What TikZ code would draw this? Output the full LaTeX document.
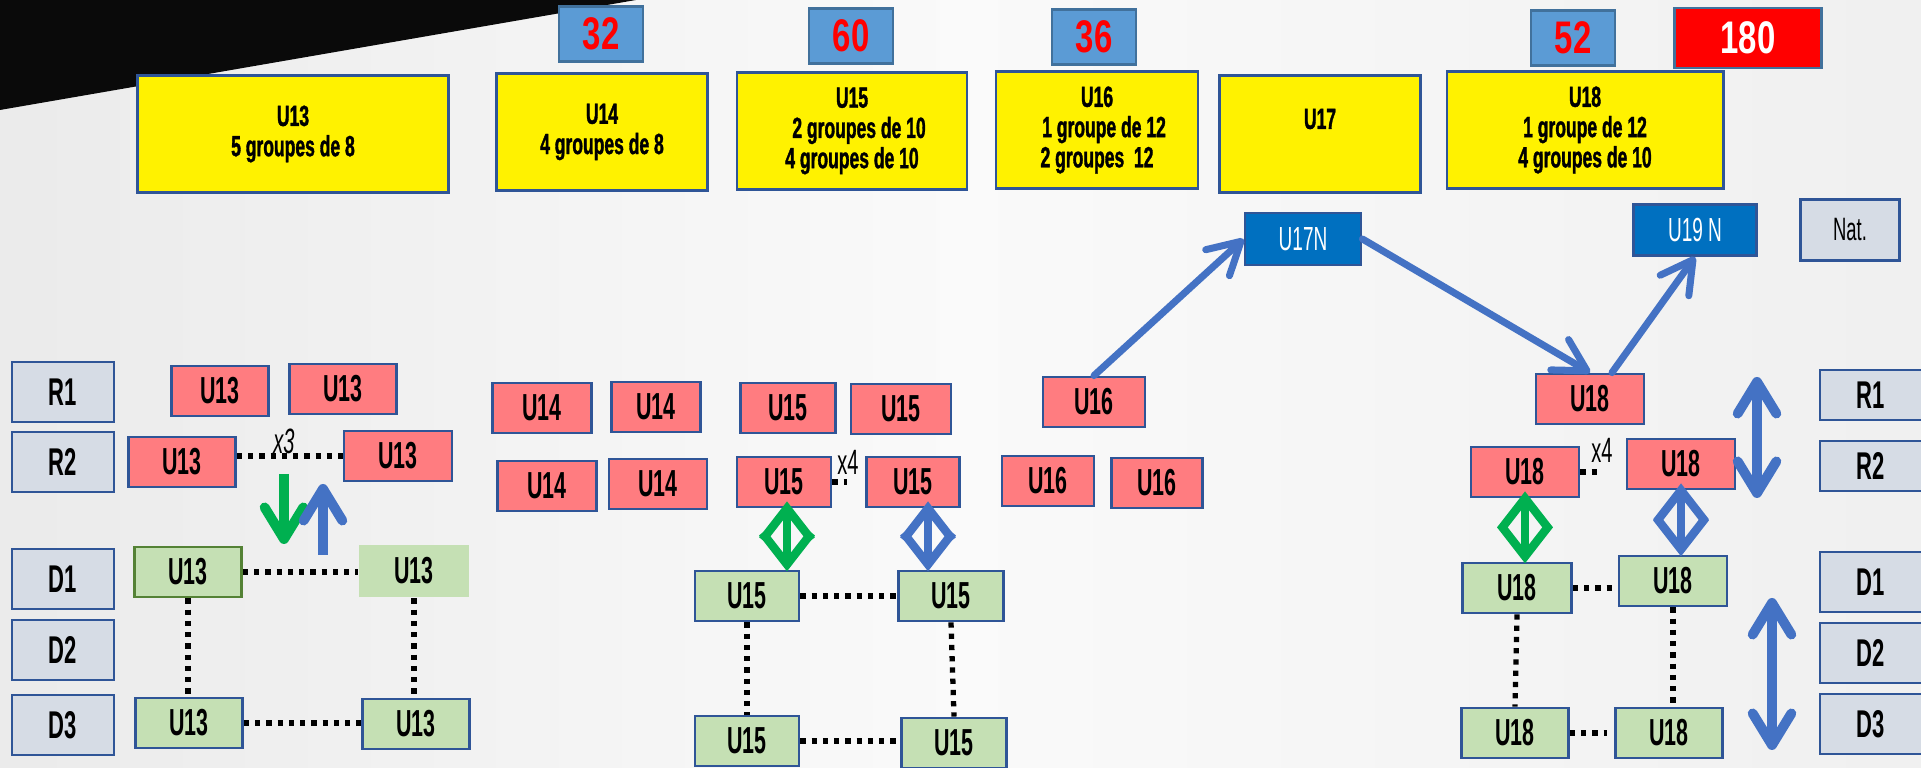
\documentclass[tikz,border=0pt]{standalone}
\usepackage{fontspec}
\setmainfont{Liberation Sans}[FakeStretch=0.57]
\newfontfamily\numfont{Liberation Sans}[FakeStretch=0.72]
\newfontfamily\heavyfont{Liberation Sans Bold}[FakeStretch=0.6, FakeBold=1.2]
\usepackage{tikz}
\usetikzlibrary{arrows.meta}

\definecolor{cntblue}{HTML}{5B9BD5}
\definecolor{cntedge}{HTML}{41719C}
\definecolor{edgeblue}{HTML}{2F5597}
\definecolor{rowgray}{HTML}{D6DCE5}
\definecolor{redbox}{HTML}{FF7C80}
\definecolor{greenbox}{HTML}{C5E0B4}
\definecolor{darkgreen}{HTML}{548235}
\definecolor{natblue}{HTML}{0070C0}
\definecolor{arrblue}{HTML}{4472C4}
\definecolor{arrgreen}{HTML}{00B050}

\tikzset{
  cnt/.style={draw=cntedge, line width=0.8pt, fill=cntblue, text=red,
    font=\numfont\bfseries\fontsize{13}{13}\selectfont,
    minimum width=0.84cm, minimum height=0.55cm, inner sep=0pt},
  ybox/.style={draw=edgeblue, line width=0.8pt, fill=yellow, align=center,
    font=\heavyfont\fontsize{8.3}{8.6}\selectfont, minimum height=1.17cm, inner sep=0pt},
  row/.style={draw=edgeblue, line width=0.8pt, fill=rowgray,
    font=\bfseries\fontsize{11}{11}\selectfont, minimum width=1.02cm, minimum height=0.6cm, inner sep=0pt},
  rbox/.style={draw=edgeblue, line width=0.8pt, fill=redbox,
    font=\bfseries\fontsize{10.7}{11}\selectfont, minimum height=0.5cm, inner sep=0pt},
  gbox/.style={rbox, fill=greenbox},
  nbox/.style={draw=edgeblue, line width=0.8pt, fill=natblue, text=white,
    font=\fontsize{9.5}{10}\selectfont, minimum height=0.52cm, inner sep=0pt},
  dots/.style={line width=1.5pt, dash pattern=on 1.5pt off 1.7pt},
  barb/.style={arrblue, line width=2pt, line cap=round,
    -{Straight Barb[round, length=9pt, width=10pt]}},
  updown/.style={line width=2.8pt, line cap=round,
    {Straight Barb[round, length=9pt, width=11pt]}-{Straight Barb[round, length=9pt, width=11pt]}},
  dia/.style={line width=2.4pt, shorten <=-2pt, shorten >=-0.5pt,
    {Straight Barb[length=9pt, width=14pt]}-{Straight Barb[length=9pt, width=14pt]}}
}

\begin{document}
\begin{tikzpicture}[x=0.01cm, y=-0.01cm]
\useasboundingbox (0,0) rectangle (1921,768);
\shade[left color=black!8, right color=black!6, middle color=black!2] (0,0) rectangle (1921,768);
\fill[black!96] (0,0) -- (636,0) -- (0,110) -- cycle;

% totaux
\node[cnt] (n32) at (601,34) {32};
\node[cnt] (n60) at (851,36) {60};
\node[cnt] (n36) at (1094,37) {36};
\node[cnt] (n52) at (1573,38) {52};
\node[cnt, fill=red, text=white, minimum width=1.47cm, minimum height=0.6cm] (n180) at (1748,38) {180};

% unites
\node[ybox, minimum width=3.11cm] (y13) at (293,134) {U13\\5 groupes de 8};
\node[ybox, minimum width=2.11cm] (y14) at (602,132) {U14\\4 groupes de 8};
\node[ybox, minimum width=2.30cm] (y15) at (852,131) {U15\\\hspace{4pt}2 groupes de 10\\4 groupes de 10};
\node[ybox, minimum width=2.02cm] (y16) at (1097,130) {U16\\\hspace{4pt}1 groupe de 12\\2 groupes\ \ 12};
\node[ybox, minimum width=2.01cm] (y17) at (1320,134) {U17\\\mbox{}};
\node[ybox, minimum width=2.76cm] (y18) at (1585,130) {U18\\1 groupe de 12\\4 groupes de 10};

\node[nbox, minimum width=1.16cm] (u17n) at (1303,239) {U17N};
\node[nbox, minimum width=1.23cm, minimum height=0.51cm] (u19n) at (1695,230) {U19 N};
\node[row, minimum width=0.99cm, minimum height=0.61cm, font=\fontsize{9.2}{10}\selectfont] (nat) at (1850,230) {Nat.};

% rangees
\foreach \n/\t/\y in {la/R1/392, lb/R2/462, lc/D1/579, ld/D2/650, le/D3/725}
  \node[row] (\n) at (63,\y) {\t};
\foreach \n/\t/\y/\h in {ma/R1/395/0.5cm, mb/R2/466/0.5cm, mc/D1/582/0.6cm, md/D2/653/0.6cm, me/D3/724/0.6cm}
  \node[row, minimum height=\h] (\n) at (1871,\y) {\t};

% boites rouges
\foreach \n/\t/\x/\y/\w in {
  r13a/U13/220/391/0.97cm, r13b/U13/343/389/1.07cm, r13c/U13/182/462/1.07cm, r13d/U13/398/456/1.08cm,
  r14a/U14/542/408/0.99cm, r14b/U14/656/407/0.89cm, r14c/U14/547/486/0.99cm, r14d/U14/658/484/0.98cm,
  r15a/U15/788/408/0.95cm, r15b/U15/901/409/1.0cm, r15c/U15/784/482/0.94cm, r15d/U15/913/482/0.93cm,
  r16a/U16/1094/402/1.02cm, r16b/U16/1048/481/0.92cm, r16c/U16/1157/483/0.91cm,
  r18a/U18/1590/399/1.08cm, r18b/U18/1525/472/1.08cm, r18c/U18/1681/464/1.08cm}
  \node[rbox, minimum width=\w] (\n) at (\x,\y) {\t};

% boites vertes
\node[gbox, draw=darkgreen, minimum width=1.07cm] (g13a) at (188,572) {U13};
\node[gbox, draw=none, minimum width=1.09cm, minimum height=0.52cm] (g13b) at (414,571) {U13};
\foreach \n/\t/\x/\y/\w in {
  g13c/U13/189/723/1.07cm, g13d/U13/416/724/1.07cm,
  g15a/U15/747/596/1.04cm, g15b/U15/951/596/1.05cm, g15c/U15/747/741/1.04cm, g15d/U15/954/743/1.05cm,
  g18a/U18/1517/588/1.09cm, g18b/U18/1673/581/1.08cm, g18c/U18/1515/733/1.07cm, g18d/U18/1669/733/1.07cm}
  \node[gbox, minimum width=\w] (\n) at (\x,\y) {\t};

% pointilles
\draw[dots] (r13d.west -| r13c.east) -- (r13d.west);
\draw[dots] (g13a.east) -- (g13a.east -| g13b.west);
\draw[dots] (g13a.south) -- (g13a.south |- g13c.north);
\draw[dots] (g13b.south) -- (g13b.south |- g13d.north);
\draw[dots] (g13c.east) -- (g13c.east -| g13d.west);
\draw[dots, shorten >=5pt] (r15c.east) -- (r15d.west);
\draw[dots] (g15a.east) -- (g15b.west);
\draw[dots] (g15a.south) -- (g15c.north);
\draw[dots] (g15b.south) -- (g15d.north);
\draw[dots] (g15c.east) -- (g15c.east -| g15d.west);
\draw[dots, shorten >=8pt] (r18b.east) -- (r18b.east -| r18c.west);
\draw[dots, shorten >=1pt] (g18a.east) -- (g18a.east -| g18b.west);
\draw[dots] (g18a.south) -- (g18c.north);
\draw[dots] (g18b.south) -- (g18b.south |- g18d.north);
\draw[dots, shorten >=2pt] (g18c.east) -- (g18d.west);

\node[font=\itshape\fontsize{10}{10}\selectfont] (x3) at (284,441) {x3};
\node[font=\fontsize{10}{10}\selectfont] (x4a) at (848,462) {x4};
\node[font=\fontsize{10}{10}\selectfont] (x4b) at (1602,450) {x4};

% fleches
\draw[barb] (r16a.north) -- (u17n.west);
\draw[barb] (u17n.east) -- (r18a.north);
\draw[barb] ([xshift=0.22cm]r18a.north) -- (u19n.south);

\coordinate (dn1) at (284,474);
\coordinate (dn2) at (284,544);
\coordinate (up1) at (323,555);
\coordinate (up2) at (323,484);
\draw[arrgreen, line width=2.8pt, -{Straight Barb[round, length=9pt, width=11pt]}] (dn1) -- (dn2);
\draw[arrblue, line width=2.8pt, -{Straight Barb[round, length=9pt, width=11pt]}] (up1) -- (up2);

\draw[dia, arrgreen] ([xshift=0.03cm]r15c.south) -- ([xshift=0.03cm]r15c.south |- g15a.north);
\draw[dia, arrblue] ([xshift=0.15cm]r15d.south) -- ([xshift=0.15cm]r15d.south |- g15b.north);
\draw[dia, arrgreen] (r18b.south) -- (r18b.south |- g18a.north);
\draw[dia, arrblue] (r18c.south) -- (r18c.south |- g18b.north);

\coordinate (ra) at (1757,377);
\coordinate (rb) at (1757,498);
\coordinate (da) at (1772,598);
\coordinate (db) at (1772,750);
\draw[updown, arrblue] (ra) -- (rb);
\draw[updown, arrblue] (da) -- (db);
\end{tikzpicture}
\end{document}
